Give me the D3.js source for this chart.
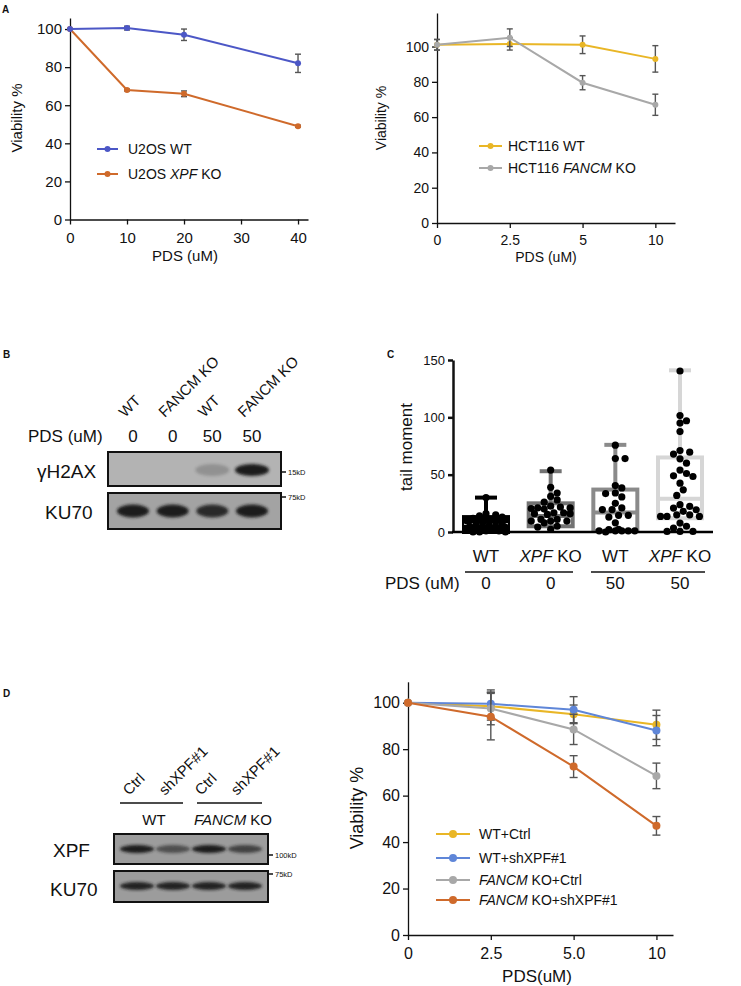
<!DOCTYPE html>
<html><head><meta charset="utf-8">
<script src="https://cdn.jsdelivr.net/npm/d3@7"></script>
<style>body{margin:0;background:#fff} svg{display:block;font-family:"Liberation Sans",Arial,Helvetica,sans-serif}</style>
</head><body><svg id="fig" width="741" height="986"></svg>
<script>
// ---------------- DATA ----------------
// Panel A left
const aLeftX = [0, 10, 20, 40];
const aLeftWT = [100, 100.5, 97, 82];
const aLeftWTerr = [0, 1, 3, 4.8];
const aLeftKO = [100, 68, 66, 49];
const aLeftKOerr = [0, 0.5, 1.5, 0.5];
const aLeftXTicks = [0, 10, 20, 30, 40];
const aLeftYTicks = [0, 20, 40, 60, 80, 100];
// Panel A right
const aRightCats = ["0", "2.5", "5", "10"];
const aRightWT = [101, 101.5, 101, 93];
const aRightWTerr = [3, 3.5, 5, 7.5];
const aRightKO = [101, 105, 79.5, 67];
const aRightKOerr = [3, 5, 4, 6];
const aRightYTicks = [0, 20, 40, 60, 80, 100];
// Panel B blot
const bLanes = ["WT", "FANCM KO", "WT", "FANCM KO"];
const bPDS = ["0", "0", "50", "50"];
const bH2AX = [0, 0, 0.22, 1];
const bKU70 = [1, 1, 0.9, 1];
// Panel C
const cGroups = ["WT", "XPF KO", "WT", "XPF KO"];
const cPDS = ["0", "0", "50", "50"];
const cMin = [0, 0, 0, 0];
const cQ1 = [0, 5, 1, 12];
const cMed = [7, 14, 17, 29];
const cQ3 = [13, 25, 37, 65];
const cMax = [30, 53, 76, 141];
const cDots = [
  [0,0,0,1,1,2,2,3,3,4,5,5,6,7,7,8,9,10,11,12,13,14,15,16,30],
  [54,39,34,31,28,26,21.7,20.5,21,20,21,22.5,16.8,16.8,15.3,16,16,11,9.5,9.5,8,9.5,11,5,4.3,2.3],
  [75.7,64,64,40.5,38.4,34,33.5,30.6,25,21,19.6,19.6,14.5,13,14.5,8,2.3,1,1,1,1,0,2,1],
  [140.4,97,95,101.5,87.6,71,69.6,68,63.8,60,54,51,49,48.4,42.6,36.8,31.9,23.8,20.9,19.4,22.3,18,15,13.6,13.6,15,13.6,7.8,5,3.5,0.5,0.5,0.5]
];
const cYTicks = [0, 50, 100, 150];
// Panel D blot
const dLanes = ["Ctrl", "shXPF#1", "Ctrl", "shXPF#1"];
const dXPF = [1, 0.6, 1, 0.7];
const dKU70 = [0.95, 0.95, 0.95, 0.95];
// Panel D chart
const dCats = ["0", "2.5", "5.0", "10"];
const dSeriesNames = ["WT+Ctrl", "WT+shXPF#1", "FANCM KO+Ctrl", "FANCM KO+shXPF#1"];
const dWTCtrl = [100, 98.5, 95, 90.5];
const dWTCtrlErr = [0, 6, 4, 6.3];
const dWTsh = [100, 99.5, 97, 88];
const dWTshErr = [0, 6, 5.6, 6.5];
const dKOCtrl = [100, 97.5, 88.5, 68.5];
const dKOCtrlErr = [0, 7, 6.5, 5.5];
const dKOsh = [100, 94, 72.5, 47];
const dKOshErr = [0, 10, 4.7, 4];
const dYTicks = [0, 20, 40, 60, 80, 100];

// ---------------- COLOURS ----------------
const BLUE = "#4c57c6", ORANGE = "#cf6a2b", YELLOW = "#e9b626", GRAY = "#a8a8a8",
      DBLUE = "#5f86d8", ERR = "#555";

const svg = d3.select("#fig");
const defs = svg.append("defs");
defs.append("filter").attr("id","blur").attr("x","-50%").attr("y","-100%").attr("width","200%").attr("height","300%")
  .append("feGaussianBlur").attr("stdDeviation", 1.8);

function styleAxis(g, fs, sw) {
  g.selectAll("path,line").attr("stroke", "#111").attr("stroke-width", sw || 1.3);
  g.selectAll("text").attr("font-size", fs).attr("fill", "#111")
    .attr("font-family", '"Liberation Sans",Arial,sans-serif');
}
function label(x, y, txt, opts) {
  opts = opts || {};
  const t = svg.append("text").attr("x", x).attr("y", y).text(txt)
    .attr("font-size", opts.fs || 14).attr("fill", "#111")
    .attr("text-anchor", opts.anchor || "start");
  if (opts.bold) t.attr("font-weight", "bold");
  if (opts.rot) t.attr("transform", `rotate(${opts.rot},${x},${y})`);
  return t;
}
function mixedText(x, y, parts, fs, anchor, rot) {
  const t = svg.append("text").attr("x", x).attr("y", y).attr("font-size", fs).attr("fill", "#111")
    .attr("text-anchor", anchor || "start");
  parts.forEach(p => t.append("tspan").text(p[0]).attr("font-style", p[1] ? "italic" : "normal"));
  if (rot) t.attr("transform", `rotate(${rot},${x},${y})`);
  return t;
}
function splitName(name) {
  const m = name.match(/^(XPF|FANCM)(.*)$/);
  if (m) return [[m[1], true], [m[2], false]];
  const m2 = name.match(/^(U2OS |HCT116 )(XPF|FANCM)(.*)$/);
  if (m2) return [[m2[1], false], [m2[2], true], [m2[3], false]];
  return [[name, false]];
}
function drawSeries(g, xs, ys, errs, color, x, y, r, capW) {
  const pts = d3.zip(xs, ys, errs);
  g.selectAll(null).data(pts.filter(p => p[2] > 0)).join("g").each(function(p) {
    const gg = d3.select(this);
    const cx = x(p[0]);
    gg.append("line").attr("x1", cx).attr("x2", cx).attr("y1", y(p[1] - p[2])).attr("y2", y(p[1] + p[2]))
      .attr("stroke", ERR).attr("stroke-width", 1.4);
    [p[1] - p[2], p[1] + p[2]].forEach(v => gg.append("line").attr("x1", cx - capW).attr("x2", cx + capW)
      .attr("y1", y(v)).attr("y2", y(v)).attr("stroke", ERR).attr("stroke-width", 1.4));
  });
  g.append("path").datum(pts).attr("fill", "none").attr("stroke", color).attr("stroke-width", 2)
    .attr("d", d3.line().x(p => x(p[0])).y(p => y(p[1])));
  g.selectAll(null).data(pts).join("circle").attr("cx", p => x(p[0])).attr("cy", p => y(p[1]))
    .attr("r", r).attr("fill", color);
}
function legendItem(g, x1, x2, yy, color, name, fs, r, tx) {
  g.append("line").attr("x1", x1).attr("x2", x2).attr("y1", yy).attr("y2", yy).attr("stroke", color).attr("stroke-width", 2);
  g.append("circle").attr("cx", (x1 + x2) / 2).attr("cy", yy).attr("r", r).attr("fill", color);
  mixedText(tx, yy + fs * 0.36, splitName(name), fs);
}

// ---------------- PANEL A LEFT ----------------
{
  const g = svg.append("g");
  const x = d3.scaleLinear().domain([0, 41.75]).range([70, 308]);
  const y = d3.scaleLinear().domain([0, 105.8]).range([219.5, 18]);
  const ax = g.append("g").attr("transform", "translate(0,219.5)")
    .call(d3.axisBottom(x).tickValues(aLeftXTicks).tickSize(5).tickSizeOuter(0));
  styleAxis(ax, 15);
  const ay = g.append("g").attr("transform", "translate(70,0)")
    .call(d3.axisLeft(y).tickValues(aLeftYTicks).tickSize(5).tickSizeOuter(0));
  styleAxis(ay, 15);
  ax.selectAll("text").attr("dy", "1.0em");
  drawSeries(g, aLeftX, aLeftKO, aLeftKOerr, ORANGE, x, y, 3, 3);
  drawSeries(g, aLeftX, aLeftWT, aLeftWTerr, BLUE, x, y, 3, 3);
  legendItem(g, 97, 118, 149, BLUE, "U2OS WT", 14, 3, 128);
  legendItem(g, 97, 118, 174, ORANGE, "U2OS XPF KO", 14, 3, 128);
  label(22, 118, "Viability %", { fs: 15, anchor: "middle", rot: -90 });
  label(185, 261, "PDS (uM)", { fs: 15, anchor: "middle" });
  label(2, 13, "A", { fs: 10, bold: true });
}
// ---------------- PANEL A RIGHT ----------------
{
  const g = svg.append("g");
  const x = d3.scaleLinear().domain([0, 3.27]).range([437, 675]);
  const y = d3.scaleLinear().domain([0, 119]).range([223, 13]);
  const ax = g.append("g").attr("transform", "translate(0,223)")
    .call(d3.axisBottom(x).tickValues([0, 1, 2, 3]).tickFormat(i => aRightCats[i]).tickSize(5).tickSizeOuter(0));
  styleAxis(ax, 14);
  ax.selectAll("text").attr("dy", "1.0em");
  const ay = g.append("g").attr("transform", "translate(437,0)")
    .call(d3.axisLeft(y).tickValues(aRightYTicks).tickSize(5).tickSizeOuter(0));
  styleAxis(ay, 14);
  const idx = aRightCats.map((d, i) => i);
  drawSeries(g, idx, aRightWT, aRightWTerr, YELLOW, x, y, 3, 3);
  drawSeries(g, idx, aRightKO, aRightKOerr, GRAY, x, y, 3, 3);
  legendItem(g, 479, 502, 146, YELLOW, "HCT116 WT", 14, 3, 508);
  legendItem(g, 479, 502, 168, GRAY, "HCT116 FANCM KO", 14, 3, 508);
  label(386, 118, "Viability %", { fs: 14, anchor: "middle", rot: -90 });
  label(546, 262, "PDS (uM)", { fs: 14, anchor: "middle" });
}
// ---------------- BLOT helper ----------------
function blot(x0, x1, y0, y1, fill, lanes, intens, bw, bh, by) {
  const g = svg.append("g");
  g.append("rect").attr("x", x0).attr("y", y0).attr("width", x1 - x0).attr("height", y1 - y0)
    .attr("fill", fill).attr("stroke", "#111").attr("stroke-width", 2);
  g.selectAll(null).data(d3.zip(lanes, intens)).join("ellipse")
    .attr("cx", d => d[0]).attr("cy", by).attr("rx", bw / 2).attr("ry", bh / 2)
    .attr("fill", "#1a1a1a").attr("opacity", d => d[1]).attr("filter", "url(#blur)");
}
function marker(x, yy, txt) {
  svg.append("line").attr("x1", x).attr("x2", x + 4).attr("y1", yy).attr("y2", yy).attr("stroke", "#111").attr("stroke-width", 1.5);
  label(x + 6, yy + 3, txt, { fs: 7.5 });
}
// ---------------- PANEL B ----------------
{
  label(3, 358, "B", { fs: 10, bold: true });
  const lx = d3.scalePoint().domain(d3.range(4)).range([133, 252]);
  bLanes.forEach((n, i) => mixedText(lx(i) - 8, 418, [[n, false]], 15, "start", -45));
  label(28, 442, "PDS (uM)", { fs: 17 });
  bPDS.forEach((v, i) => label(lx(i), 442, v, { fs: 17, anchor: "middle" }));
  const lanesX = d3.range(4).map(i => lx(i));
  blot(108, 281, 452, 486, "#b3b3b3", lanesX, bH2AX, 34, 12, 470);
  blot(108, 281, 493, 529, "#a3a3a3", lanesX, bKU70, 32, 13, 511);
  label(37, 478, "γH2AX", { fs: 19 });
  label(45, 519, "KU70", { fs: 19 });
  marker(282, 472, "15kD");
  marker(282, 497, "75kD");
}
// ---------------- PANEL C ----------------
{
  label(387, 358, "C", { fs: 10, bold: true });
  const g = svg.append("g");
  const y = d3.scaleLinear().domain([0, 150]).range([532, 360]);
  const x = d3.scalePoint().domain(d3.range(4)).range([486, 680]);
  const boxCols = ["#000000", "#737373", "#8a8a8a", "#d6d6d6"];
  const bw = 44, cap = 11, r = 3.6, maxOff = 20;
  d3.range(4).forEach(i => {
    const cx = x(i), col = boxCols[i];
    g.append("line").attr("x1", cx).attr("x2", cx).attr("y1", y(cQ3[i])).attr("y2", y(cMax[i])).attr("stroke", col).attr("stroke-width", 4);
    g.append("line").attr("x1", cx).attr("x2", cx).attr("y1", y(cQ1[i])).attr("y2", y(cMin[i])).attr("stroke", col).attr("stroke-width", 4);
    g.append("line").attr("x1", cx - cap).attr("x2", cx + cap).attr("y1", y(cMax[i])).attr("y2", y(cMax[i])).attr("stroke", col).attr("stroke-width", 4);
    g.append("rect").attr("x", cx - bw / 2).attr("y", y(cQ3[i])).attr("width", bw).attr("height", Math.max(0.1, y(cQ1[i]) - y(cQ3[i])))
      .attr("fill", i === 0 ? "#000" : "#fff").attr("stroke", col).attr("stroke-width", 4);
    g.append("line").attr("x1", cx - bw / 2).attr("x2", cx + bw / 2).attr("y1", y(cMed[i])).attr("y2", y(cMed[i]))
      .attr("stroke", i === 0 ? "#fff" : col).attr("stroke-width", i === 0 ? 1.5 : 4);
    // bounded beeswarm
    const placed = [];
    const vals = cDots[i].slice().sort((a, b) => b - a);
    const cands = [0];
    for (let k = 1; k * r * 0.9 <= maxOff; k++) { cands.push(k * r * 0.9, -k * r * 0.9); }
    vals.forEach(v => {
      const cy = y(v);
      let best = 0, bestD = -1;
      for (const cand of cands) {
        const dmin = placed.length ? d3.min(placed, p => Math.hypot(p.dx - cand, p.cy - cy)) : Infinity;
        if (dmin >= 2 * r * 0.95) { best = cand; bestD = Infinity; break; }
        if (dmin > bestD) { bestD = dmin; best = cand; }
      }
      placed.push({ dx: best, cy });
    });
    g.selectAll(null).data(placed).join("circle").attr("cx", p => cx + p.dx).attr("cy", p => p.cy).attr("r", r).attr("fill", "#000");
  });
  const ay = g.append("g").attr("transform", "translate(453,0)")
    .call(d3.axisLeft(y).tickValues(cYTicks).tickSize(5).tickSizeOuter(0));
  styleAxis(ay, 13, 2.5);
  g.append("line").attr("x1", 452).attr("x2", 713).attr("y1", 532).attr("y2", 532).attr("stroke", "#000").attr("stroke-width", 2.5);
  label(412, 447, "tail moment", { fs: 17, anchor: "middle", rot: -90 });
  cGroups.forEach((n, i) => mixedText(x(i), 562, splitName(n), 17, "middle"));
  svg.append("line").attr("x1", 465).attr("x2", 573).attr("y1", 572).attr("y2", 572).attr("stroke", "#111").attr("stroke-width", 1.3);
  svg.append("line").attr("x1", 591).attr("x2", 705).attr("y1", 572).attr("y2", 572).attr("stroke", "#111").attr("stroke-width", 1.3);
  label(385, 589, "PDS (uM)", { fs: 17 });
  cPDS.forEach((v, i) => label(x(i), 589, v, { fs: 17, anchor: "middle" }));
}
// ---------------- PANEL D BLOT ----------------
{
  label(3, 697, "D", { fs: 10, bold: true });
  const lx = d3.scalePoint().domain(d3.range(4)).range([137, 245]);
  dLanes.forEach((n, i) => label(lx(i) - 8, 796, n, { fs: 15, rot: -45 }));
  svg.append("line").attr("x1", 120).attr("x2", 183).attr("y1", 803).attr("y2", 803).attr("stroke", "#111").attr("stroke-width", 1.3);
  svg.append("line").attr("x1", 197).attr("x2", 262).attr("y1", 803).attr("y2", 803).attr("stroke", "#111").attr("stroke-width", 1.3);
  label(154, 825, "WT", { fs: 15, anchor: "middle" });
  mixedText(233, 825, [["FANCM", true], [" KO", false]], 15, "middle");
  const lanesX = d3.range(4).map(i => lx(i));
  blot(114, 268, 834, 864, "#9c9c9c", lanesX, dXPF, 34, 8, 849);
  blot(114, 268, 871, 902, "#9c9c9c", lanesX, dKU70, 34, 8, 886);
  label(53, 857, "XPF", { fs: 19 });
  label(50, 896, "KU70", { fs: 19 });
  marker(269, 855, "100kD");
  marker(269, 874, "75kD");
}
// ---------------- PANEL D CHART ----------------
{
  const g = svg.append("g");
  const x = d3.scaleLinear().domain([0, 3.2]).range([408, 673]);
  const y = d3.scaleLinear().domain([0, 109]).range([935, 681.8]);
  const ax = g.append("g").attr("transform", "translate(0,935)")
    .call(d3.axisBottom(x).tickValues([0, 1, 2, 3]).tickFormat(i => dCats[i]).tickSize(5).tickSizeOuter(0));
  styleAxis(ax, 16);
  ax.selectAll("text").attr("dy", "1.0em");
  const ay = g.append("g").attr("transform", "translate(408,0)")
    .call(d3.axisLeft(y).tickValues(dYTicks).tickSize(5).tickSizeOuter(0));
  styleAxis(ay, 16);
  const idx = dCats.map((d, i) => i);
  const series = [[dWTCtrl, dWTCtrlErr, YELLOW], [dWTsh, dWTshErr, DBLUE], [dKOCtrl, dKOCtrlErr, GRAY], [dKOsh, dKOshErr, ORANGE]];
  series.forEach(s => drawSeries(g, idx, s[0], s[1], s[2], x, y, 4, 4));
  const legY = [834, 858, 880, 900];
  series.forEach((s, i) => legendItem(g, 436, 470, legY[i], s[2], dSeriesNames[i], 14, 4, 479));
  label(363, 808, "Viability %", { fs: 18, anchor: "middle", rot: -90 });
  label(537, 982, "PDS(uM)", { fs: 17, anchor: "middle" });
}
</script></body></html>
